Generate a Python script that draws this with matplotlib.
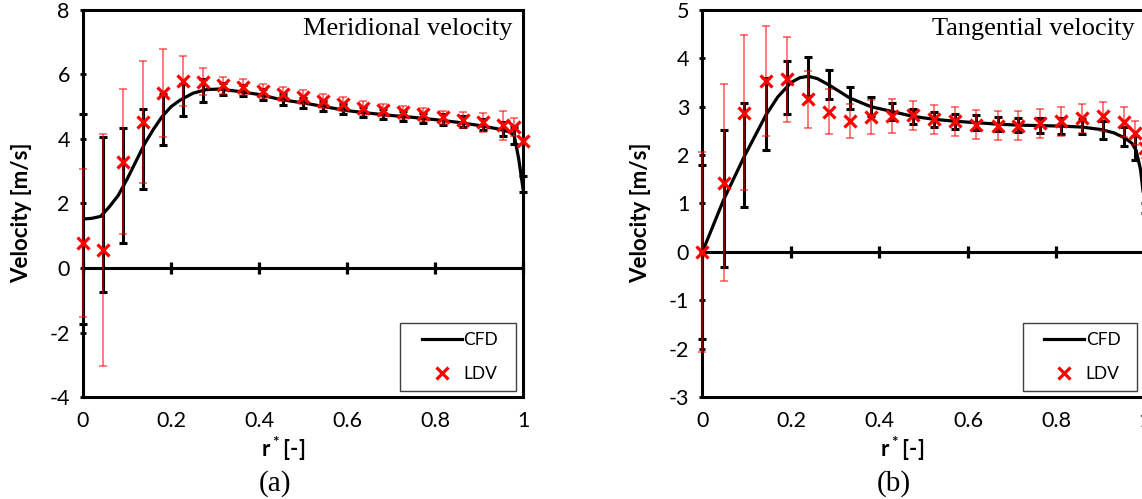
"""
CFD vs LDV velocity profiles, meridional (a) and tangential (b)
"""

import numpy as np
import matplotlib
matplotlib.use('Agg')
import matplotlib.pyplot as plt
from matplotlib.patches import Rectangle

plt.rcParams['font.family'] = ['Lato', 'DejaVu Sans']
plt.rcParams['mathtext.fontset'] = 'custom'
plt.rcParams['mathtext.rm'] = 'Lato'
plt.rcParams['mathtext.bf'] = 'Lato:bold'
plt.rcParams['axes.unicode_minus'] = False

## data

# (a) meridional velocity
r_a = [0, 0.045, 0.091, 0.136, 0.182, 0.227, 0.273, 0.318, 0.364, 0.409, 0.455, 0.5,
       0.545, 0.591, 0.636, 0.682, 0.727, 0.773, 0.818, 0.864, 0.909, 0.955, 0.98, 1.0]
ldv_a = [0.78, 0.56, 3.3, 4.53, 5.43, 5.8, 5.78, 5.66, 5.6, 5.5, 5.4, 5.3,
         5.19, 5.09, 4.97, 4.9, 4.83, 4.76, 4.67, 4.58, 4.52, 4.42, 4.36, 3.93]
ldv_err_a = [2.3, 3.6, 2.25, 1.9, 1.37, 0.78, 0.42, 0.27, 0.25, 0.22, 0.22, 0.22,
             0.22, 0.22, 0.22, 0.2, 0.2, 0.2, 0.2, 0.25, 0.3, 0.44, 0.28, 0.1]
cfd_a = [1.52, 1.65, 2.55, 3.7, 4.6, 5.2, 5.5, 5.55, 5.5, 5.38, 5.22, 5.12,
         5.02, 4.92, 4.84, 4.77, 4.71, 4.66, 4.6, 4.53, 4.45, 4.3, 4.1, 2.6]
cfd_err_a = [3.26, 2.4, 1.78, 1.24, 0.8, 0.5, 0.35, 0.2, 0.18, 0.17, 0.17, 0.16,
             0.16, 0.16, 0.16, 0.16, 0.16, 0.16, 0.16, 0.17, 0.18, 0.22, 0.27, 0.25]
# CFD curve (denser, to keep its smooth shape)
curve_r_a = [0, 0.02, 0.04, 0.06, 0.08, 0.1, 0.12, 0.14, 0.16, 0.18, 0.2, 0.22, 0.25,
             0.28, 0.31, 0.35, 0.4, 0.45, 0.5, 0.55, 0.6, 0.65, 0.7, 0.75, 0.8, 0.85,
             0.9, 0.94, 0.97, 0.98, 0.99, 1.0]
curve_a = [1.52, 1.54, 1.6, 1.9, 2.25, 2.75, 3.3, 3.85, 4.3, 4.7, 5.0, 5.2, 5.42,
           5.53, 5.55, 5.48, 5.38, 5.22, 5.12, 5.0, 4.88, 4.8, 4.73, 4.67, 4.6, 4.52,
           4.42, 4.32, 4.22, 4.1, 3.4, 2.45]

# (b) tangential velocity
r_b = [0, 0.048, 0.095, 0.143, 0.19, 0.238, 0.286, 0.333, 0.381, 0.429, 0.476, 0.524,
       0.571, 0.619, 0.667, 0.714, 0.762, 0.81, 0.857, 0.905, 0.952, 0.978, 1.0]
ldv_b = [0, 1.43, 2.88, 3.53, 3.57, 3.15, 2.9, 2.7, 2.78, 2.8, 2.82, 2.74,
         2.7, 2.63, 2.61, 2.61, 2.66, 2.7, 2.76, 2.8, 2.68, 2.45, 2.15]
ldv_err_b = [2.07, 2.03, 1.6, 1.13, 0.88, 0.58, 0.47, 0.35, 0.35, 0.35, 0.3, 0.3,
             0.3, 0.3, 0.3, 0.3, 0.3, 0.3, 0.3, 0.3, 0.31, 0.25, 0.2]
cfd_b = [0, 1.1, 2.0, 2.85, 3.4, 3.63, 3.45, 3.18, 3.0, 2.9, 2.8, 2.74,
         2.7, 2.67, 2.64, 2.62, 2.61, 2.6, 2.59, 2.52, 2.38, 2.15, 0.9]
cfd_err_b = [1.8, 1.42, 1.07, 0.75, 0.55, 0.4, 0.3, 0.22, 0.2, 0.17, 0.15, 0.15,
             0.15, 0.15, 0.15, 0.15, 0.15, 0.17, 0.16, 0.18, 0.2, 0.25, 0.1]
curve_r_b = [0, 0.048, 0.095, 0.143, 0.17, 0.2, 0.22, 0.24, 0.26, 0.286, 0.333, 0.381,
             0.429, 0.476, 0.524, 0.571, 0.619, 0.667, 0.714, 0.762, 0.81, 0.857, 0.9,
             0.93, 0.955, 0.97, 0.98, 0.99, 1.0]
curve_b = [0, 1.08, 1.98, 2.82, 3.2, 3.5, 3.6, 3.63, 3.58, 3.45, 3.18, 3.0,
           2.9, 2.8, 2.74, 2.7, 2.67, 2.64, 2.62, 2.61, 2.6, 2.58, 2.53,
           2.46, 2.35, 2.25, 2.1, 1.7, 0.9]

x_ticks = [0, 0.2, 0.4, 0.6, 0.8, 1.0]
x_labels = ['0', '0.2', '0.4', '0.6', '0.8', '1']


def drawPanel(ax, r, ldv, ldv_err, cfd, cfd_err, curve_r, curve_v, ylim, ystep, title, box_x, leg_x):
    """one velocity profile panel, Excel look"""
    cfdLine, = ax.plot(curve_r, curve_v, color='k', lw=2.3, zorder=3, label='CFD')
    ax.errorbar(r, cfd, yerr=cfd_err, fmt='none', ecolor='k', elinewidth=2.2,
                capsize=3.2, capthick=2.2, zorder=2, clip_on=False)
    eb = ax.errorbar(r, ldv, yerr=ldv_err, fmt='none', ecolor='red', alpha=0.6,
                     elinewidth=1.2, capsize=2.9, capthick=1.2, zorder=4)
    for part in eb.lines[1] + eb.lines[2]:
        part.set_clip_on(False)
    ldvPts, = ax.plot(r, ldv, 'x', color='red', ms=9, mew=2.3, zorder=5, clip_on=False, label='LDV')

    ax.set_xlim(0, 1)
    ax.set_ylim(*ylim)
    ax.set_xticks(x_ticks)
    ax.set_xticklabels(x_labels)
    yt = np.arange(ylim[0], ylim[1] + ystep / 2, ystep)
    ax.set_yticks(yt)
    ax.set_yticklabels([str(int(v)) for v in yt])
    ax.tick_params(axis='x', length=0, pad=10, labelsize=15.5)
    ax.tick_params(axis='y', direction='inout', length=5, width=2, pad=7, labelsize=15.5)
    for sp in ax.spines.values():
        sp.set_linewidth(2.2)

    # horizontal axis drawn through zero, with its own ticks
    frac = -ylim[0] / (ylim[1] - ylim[0])
    sec = ax.secondary_xaxis(frac)
    sec.set_xticks(x_ticks)
    sec.spines['bottom'].set_linewidth(2.2)
    sec.spines['top'].set_linewidth(2.2)
    sec.tick_params(direction='inout', length=8, width=2.3, labelbottom=False, labeltop=False)

    ax.text(box_x[2], 0.935, title, transform=ax.transAxes, ha='right', va='baseline',
            family=['Liberation Serif'], fontsize=19)

    ax.add_patch(Rectangle((box_x[0], 0.0155), box_x[1] - box_x[0], 0.175, transform=ax.transAxes,
                           fill=False, edgecolor='#404040', lw=1, zorder=6, clip_on=False))
    ax.legend([cfdLine, ldvPts], ['CFD', 'LDV'], loc='center left', bbox_to_anchor=(leg_x, 0.103),
              frameon=False, borderpad=0, borderaxespad=0, handlelength=2.3, handletextpad=0.1,
              labelspacing=1.0, fontsize=12.5, numpoints=1)


plt.close('all')
fig = plt.figure(figsize=(11.42, 4.99), dpi=100)
axA = fig.add_axes([0.0727, 0.2044, 0.3853, 0.7756])
axB = fig.add_axes([0.6151, 0.2044, 0.3875, 0.7756])

drawPanel(axA, r_a, ldv_a, ldv_err_a, cfd_a, cfd_err_a, curve_r_a, curve_a, (-4, 8), 2,
          'Meridional velocity', (0.72, 0.984, 0.975), 0.77)
drawPanel(axB, r_b, ldv_b, ldv_err_b, cfd_b, cfd_err_b, curve_r_b, curve_b, (-3, 5), 1,
          'Tangential velocity', (0.724, 0.982, 0.977), 0.772)

for xc in [22, 641]:
    fig.text(xc / 1142, 1 - 213 / 499, 'Velocity [m/s]', rotation=90, ha='center', va='center',
             fontweight='bold', fontsize=16)
for xc, lab in [(283, '(a)'), (902, '(b)')]:
    fig.text(xc / 1142, 1 - 449 / 499, r'$\mathbf{r^*}$[-]', ha='center', va='center',
             fontweight='bold', fontsize=16)
    fig.text((xc - 8) / 1142, 1 - 484 / 499, lab, ha='center', va='center',
             family=['Liberation Serif'], fontsize=21)

fig.savefig('out.png', dpi=100)
